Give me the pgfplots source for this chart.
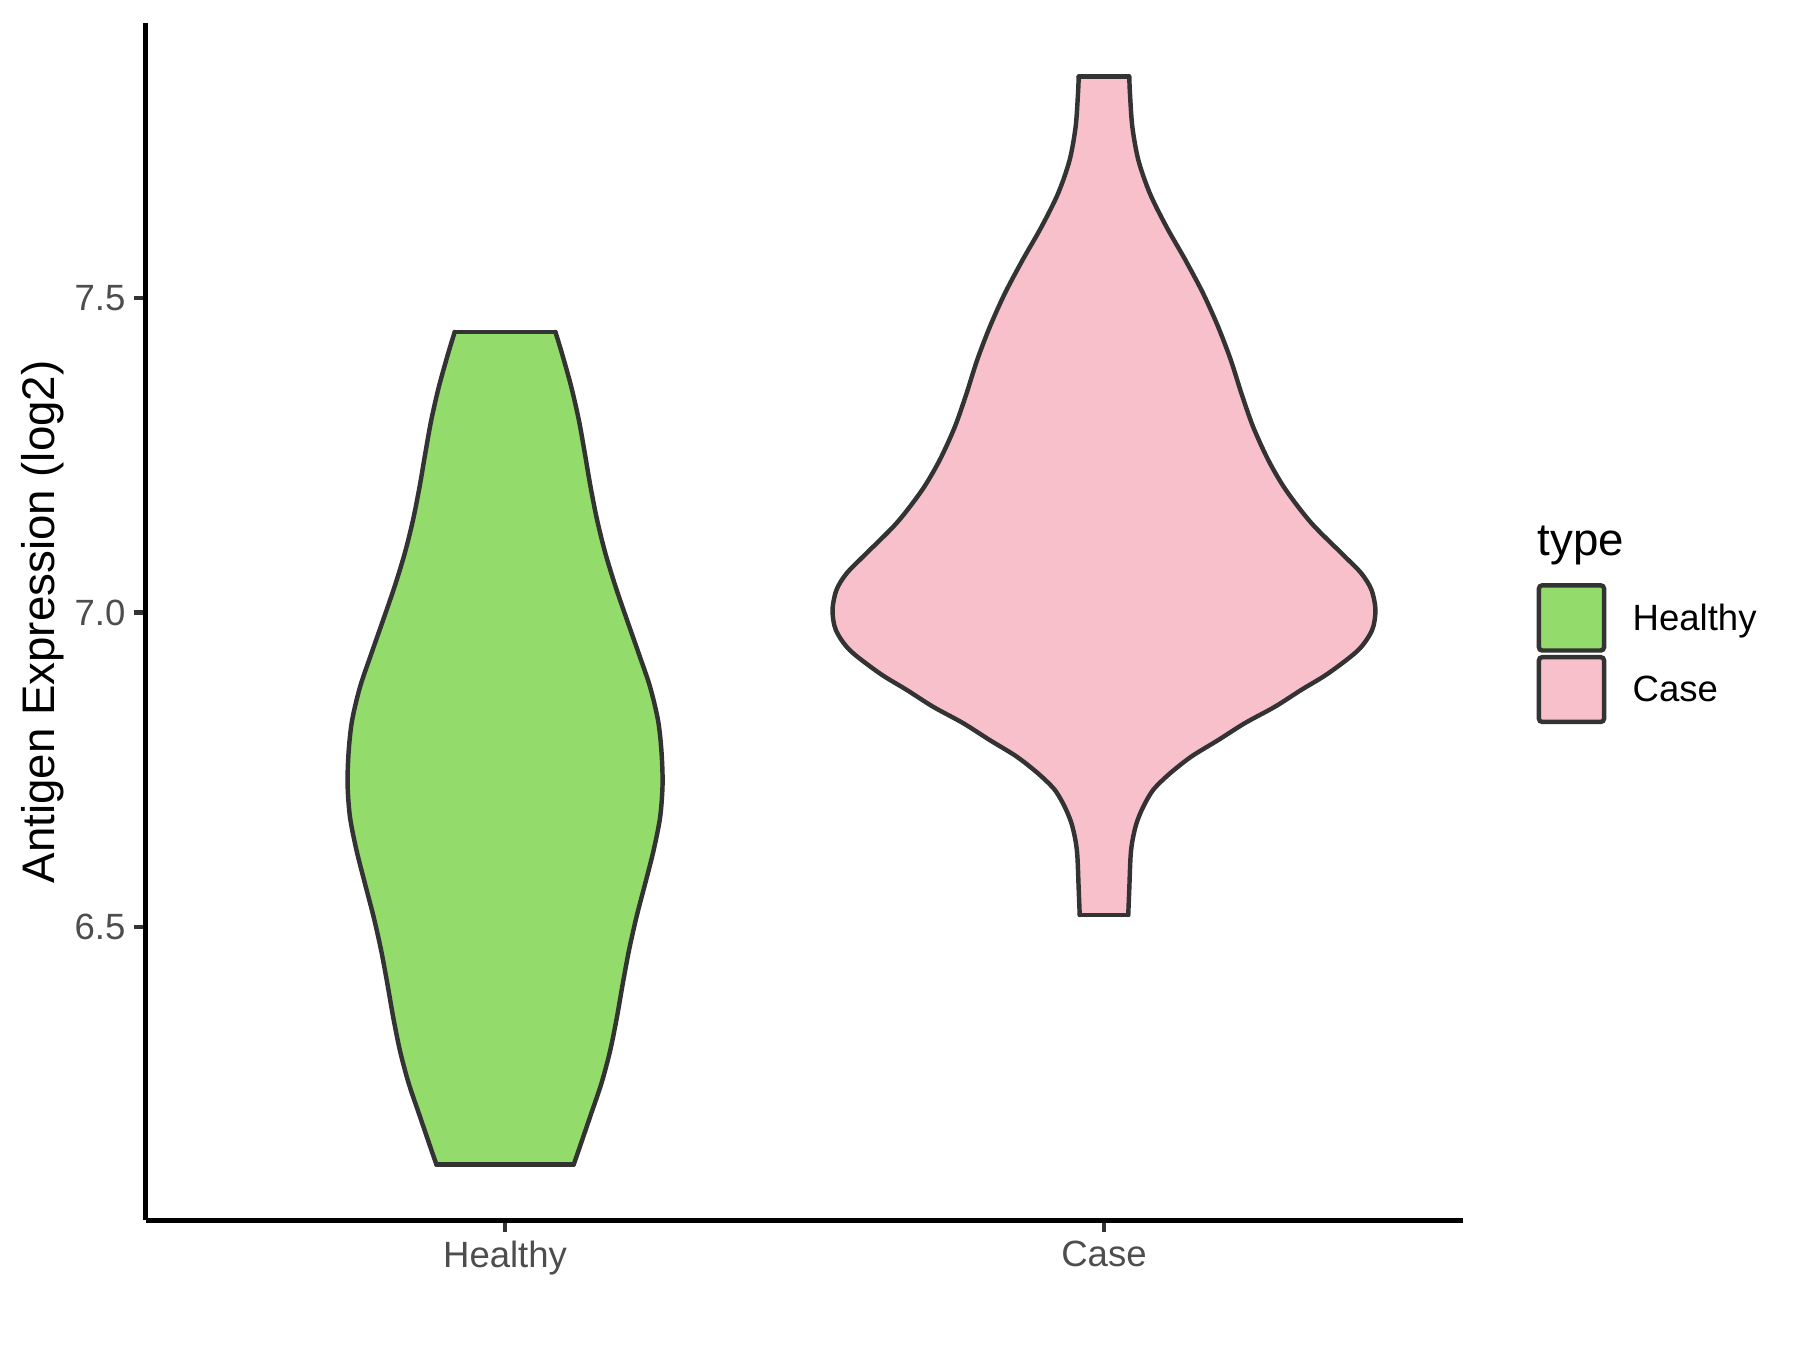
\documentclass[border=0pt]{standalone}
\usepackage{fontspec}
\setmainfont{Liberation Sans}
\usepackage{pgfplots}
\usepackage{pgfplotstable}
\pgfplotsset{compat=1.18}
\usepgfplotslibrary{fillbetween}

\definecolor{healthyfill}{RGB}{147,219,106}
\definecolor{casefill}{RGB}{247,192,203}
\definecolor{outline}{RGB}{51,51,51}
\definecolor{ticktext}{RGB}{77,77,77}

% violin outlines: y = expression, w = half width (in category units)
\pgfplotstableread{
y w
7.446 0.0841
7.412 0.0950
7.359 0.1105
7.306 0.1232
7.253 0.1332
7.200 0.1427
7.147 0.1537
7.094 0.1675
7.041 0.1845
6.988 0.2036
6.935 0.2231
6.882 0.2420
6.829 0.2553
6.781 0.2610
6.728 0.2630
6.675 0.2590
6.622 0.2481
6.569 0.2340
6.516 0.2195
6.463 0.2070
6.410 0.1966
6.357 0.1869
6.304 0.1757
6.252 0.1612
6.198 0.1420
6.145 0.1230
6.122 0.1146
}\healthydata

\pgfplotstableread{
y w
7.852 0.0422
7.825 0.0434
7.772 0.0474
7.719 0.0575
7.666 0.0768
7.613 0.1045
7.560 0.1362
7.507 0.1657
7.454 0.1907
7.401 0.2119
7.348 0.2296
7.295 0.2491
7.242 0.2745
7.195 0.3035
7.142 0.3464
7.089 0.4021
7.062 0.4299
7.036 0.4466
7.004 0.4532
6.972 0.4477
6.940 0.4244
6.903 0.3743
6.877 0.3297
6.850 0.2853
6.824 0.2353
6.797 0.1907
6.771 0.1462
6.744 0.1101
6.718 0.0823
6.691 0.0656
6.665 0.0544
6.638 0.0477
6.612 0.0444
6.559 0.0422
6.519 0.0405
}\casedata

\begin{document}
\begin{tikzpicture}
\begin{axis}[
    at={(35.1pt,31.2pt)}, anchor=south west,
    width=317.4pt, height=288.4pt, scale only axis,
    xmin=0.4, xmax=2.6, ymin=6.033, ymax=7.937,
    axis x line*=bottom, axis y line*=left,
    axis line style={line width=1.07pt, -},
    xtick={1,2}, xticklabels={Healthy,Case},
    ytick={6.5,7,7.5},
    yticklabel style={/pgf/number format/fixed, /pgf/number format/precision=1,
        /pgf/number format/fixed zerofill, xshift=1.4pt},
    xticklabel style={yshift=1.4pt},
    /pgf/number format/assume math mode=true,
    tick align=outside, major tick length=2.75pt,
    tick style={line width=1.07pt, outline},
    ticklabel style={font=\fontsize{8.8}{10}\selectfont, text=ticktext},
    ylabel={Antigen Expression (log2)},
    ylabel style={font=\fontsize{11}{13}\selectfont,
        at={(axis description cs:-0.0785,0.5)}, anchor=center},
    clip=false,
]
% Healthy
\addplot[smooth, draw=outline, line width=1.07pt, line cap=round, name path=hR]
    table[x expr=1+\thisrow{w}, y=y] {\healthydata};
\addplot[smooth, draw=outline, line width=1.07pt, line cap=round, name path=hL]
    table[x expr=1-\thisrow{w}, y=y] {\healthydata};
\addplot[fill=healthyfill, draw=none] fill between[of=hR and hL, reverse=true];
\addplot[draw=outline, line width=1.07pt, line cap=round] coordinates {(0.9159,7.446) (1.0841,7.446)};
\addplot[draw=outline, line width=1.07pt, line cap=round] coordinates {(0.8854,6.122) (1.1146,6.122)};

% Case
\addplot[smooth, draw=outline, line width=1.07pt, line cap=round, name path=cR]
    table[x expr=2+\thisrow{w}, y=y] {\casedata};
\addplot[smooth, draw=outline, line width=1.07pt, line cap=round, name path=cL]
    table[x expr=2-\thisrow{w}, y=y] {\casedata};
\addplot[fill=casefill, draw=none] fill between[of=cR and cL, reverse=true];
\addplot[draw=outline, line width=1.07pt, line cap=round] coordinates {(1.9578,7.852) (2.0422,7.852)};
\addplot[draw=outline, line width=1.07pt, line cap=round] coordinates {(1.9595,6.519) (2.0405,6.519)};
\end{axis}

% legend
\node[anchor=base west, inner sep=0pt, font=\fontsize{11}{13}\selectfont] at (370.2pt,191.5pt) {type};
\filldraw[fill=healthyfill, draw=outline, line width=1.07pt, rounded corners=0.8pt]
    (370.7pt,168.5pt) rectangle (386.4pt,184.2pt);
\filldraw[fill=casefill, draw=outline, line width=1.07pt, rounded corners=0.8pt]
    (370.7pt,151.3pt) rectangle (386.4pt,166.9pt);
\node[anchor=base west, inner sep=0pt, font=\fontsize{8.8}{10}\selectfont] at (393.1pt,173.4pt) {Healthy};
\node[anchor=base west, inner sep=0pt, font=\fontsize{8.8}{10}\selectfont] at (393.1pt,156.2pt) {Case};
% page size
\path (0,0) rectangle (433.6pt,325.2pt);
\end{tikzpicture}
\end{document}
